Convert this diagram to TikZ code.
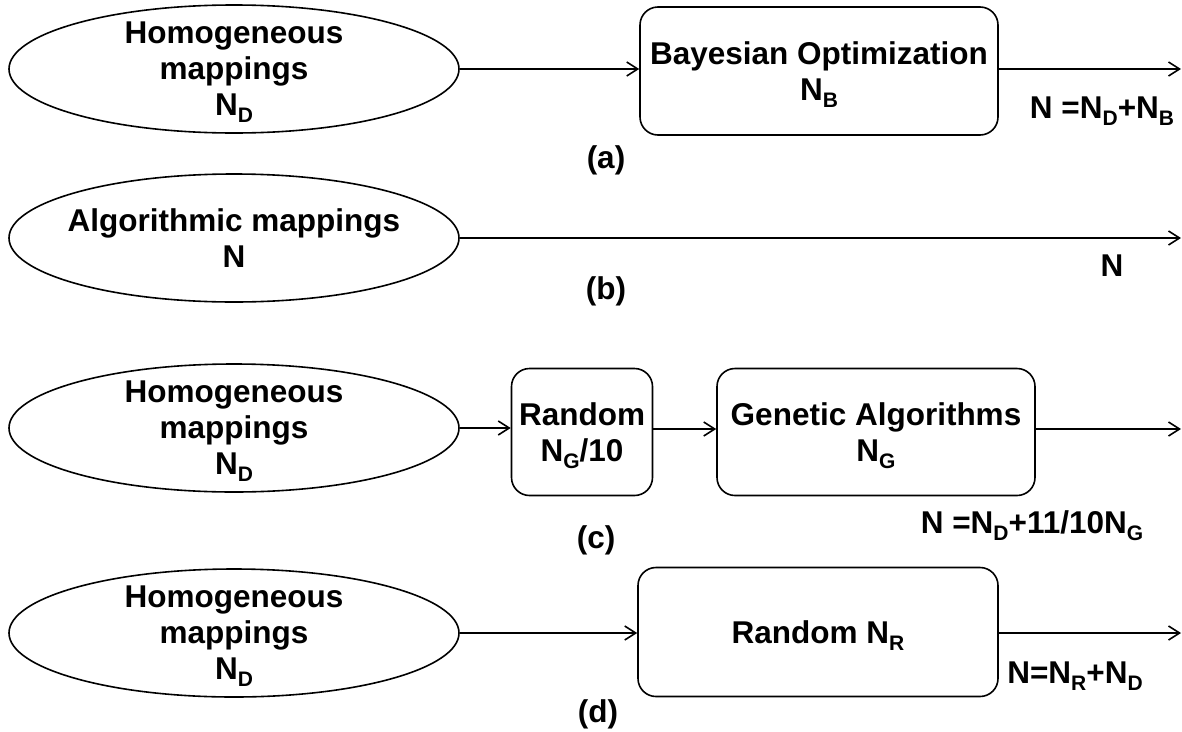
\documentclass[tikz,border=0pt]{standalone}
\usepackage{fontspec}
\setmainfont{Liberation Sans}
\usetikzlibrary{shapes.geometric,arrows.meta}
% lowered, smaller subscript letter that takes no vertical room
\newcommand\lowsub[1]{\raisebox{-7pt}[0pt][0pt]{\fontsize{21}{21}\selectfont #1}}
\begin{document}
\begin{tikzpicture}[x=1pt,y=-1pt,
  every node/.style={font=\fontsize{31.5}{36}\selectfont\bfseries, inner sep=0pt},
  oval/.style={draw, ellipse, line width=1.6pt, minimum width=450pt, minimum height=128pt},
  ovaltext/.style={align=center},
  stage/.style={draw, rounded corners=18pt, line width=1.6pt, align=center},
  flow/.style={line width=1.6pt, -{Straight Barb[length=11pt,width=14pt,line width=1.6pt]}},
  lbl/.style={anchor=base},
]
\useasboundingbox (0,0) rectangle (1182,731);

% (a) homogeneous mappings followed by Bayesian optimization
\node[oval] (ea) at (234,69) {};
\node[ovaltext] (ea-t) at (ea) {Homogeneous\\mappings\\N\lowsub{D}};
\node[stage, minimum width=358pt, minimum height=128pt] (ba) at (819,71) {Bayesian Optimization\\N\lowsub{B}};
\coordinate (oa) at (1181,69);
\draw[flow] (ea.east) -- (ea.east -| ba.west);
\draw[flow] (ba.east |- oa) -- (oa);
\node[lbl] (ta) at (1102,118) {N =N\lowsub{D}+N\lowsub{B}};
\node[lbl] (capa) at (606,168) {(a)};

% (b) algorithmic mappings only
\node[oval] (eb) at (234,238) {};
\node[ovaltext] (eb-t) at (eb) {Algorithmic mappings\\N};
\coordinate (ob) at (1181,238);
\draw[flow] (eb.east) -- (ob);
\node[lbl] (tb) at (1112,276) {N};
\node[lbl] (capb) at (606,299) {(b)};

% (c) homogeneous mappings, random seeding, genetic algorithms
\node[oval] (ec) at (234,428) {};
\node[ovaltext] (ec-t) at (ec) {Homogeneous\\mappings\\N\lowsub{D}};
\node[stage, minimum width=141pt, minimum height=127pt] (rc) at (582,432) {Random\\N\lowsub{G}/10};
\node[stage, minimum width=318pt, minimum height=127pt] (gc) at (876,432) {Genetic Algorithms\\N\lowsub{G}};
\coordinate (oc) at (1181,429);
\draw[flow] (ec.east) -- (ec.east -| rc.west);
\draw[flow] (rc.east |- oc) -- (oc -| gc.west);
\draw[flow] (gc.east |- oc) -- (oc);
\node[lbl] (tc) at (1032,533) {N =N\lowsub{D}+11/10N\lowsub{G}};
\node[lbl] (capc) at (596,548) {(c)};

% (d) homogeneous mappings followed by random search
\node[oval] (ed) at (234,633) {};
\node[ovaltext] (ed-t) at (ed) {Homogeneous\\mappings\\N\lowsub{D}};
\node[stage, minimum width=360pt, minimum height=129pt] (rd) at (818,632) {Random N\lowsub{R}};
\coordinate (od) at (1181,633);
\draw[flow] (ed.east) -- (ed.east -| rd.west);
\draw[flow] (rd.east |- od) -- (od);
\node[lbl] (td) at (1075,683) {N=N\lowsub{R}+N\lowsub{D}};
\node[lbl] (capd) at (598,722) {(d)};
\end{tikzpicture}
\end{document}
